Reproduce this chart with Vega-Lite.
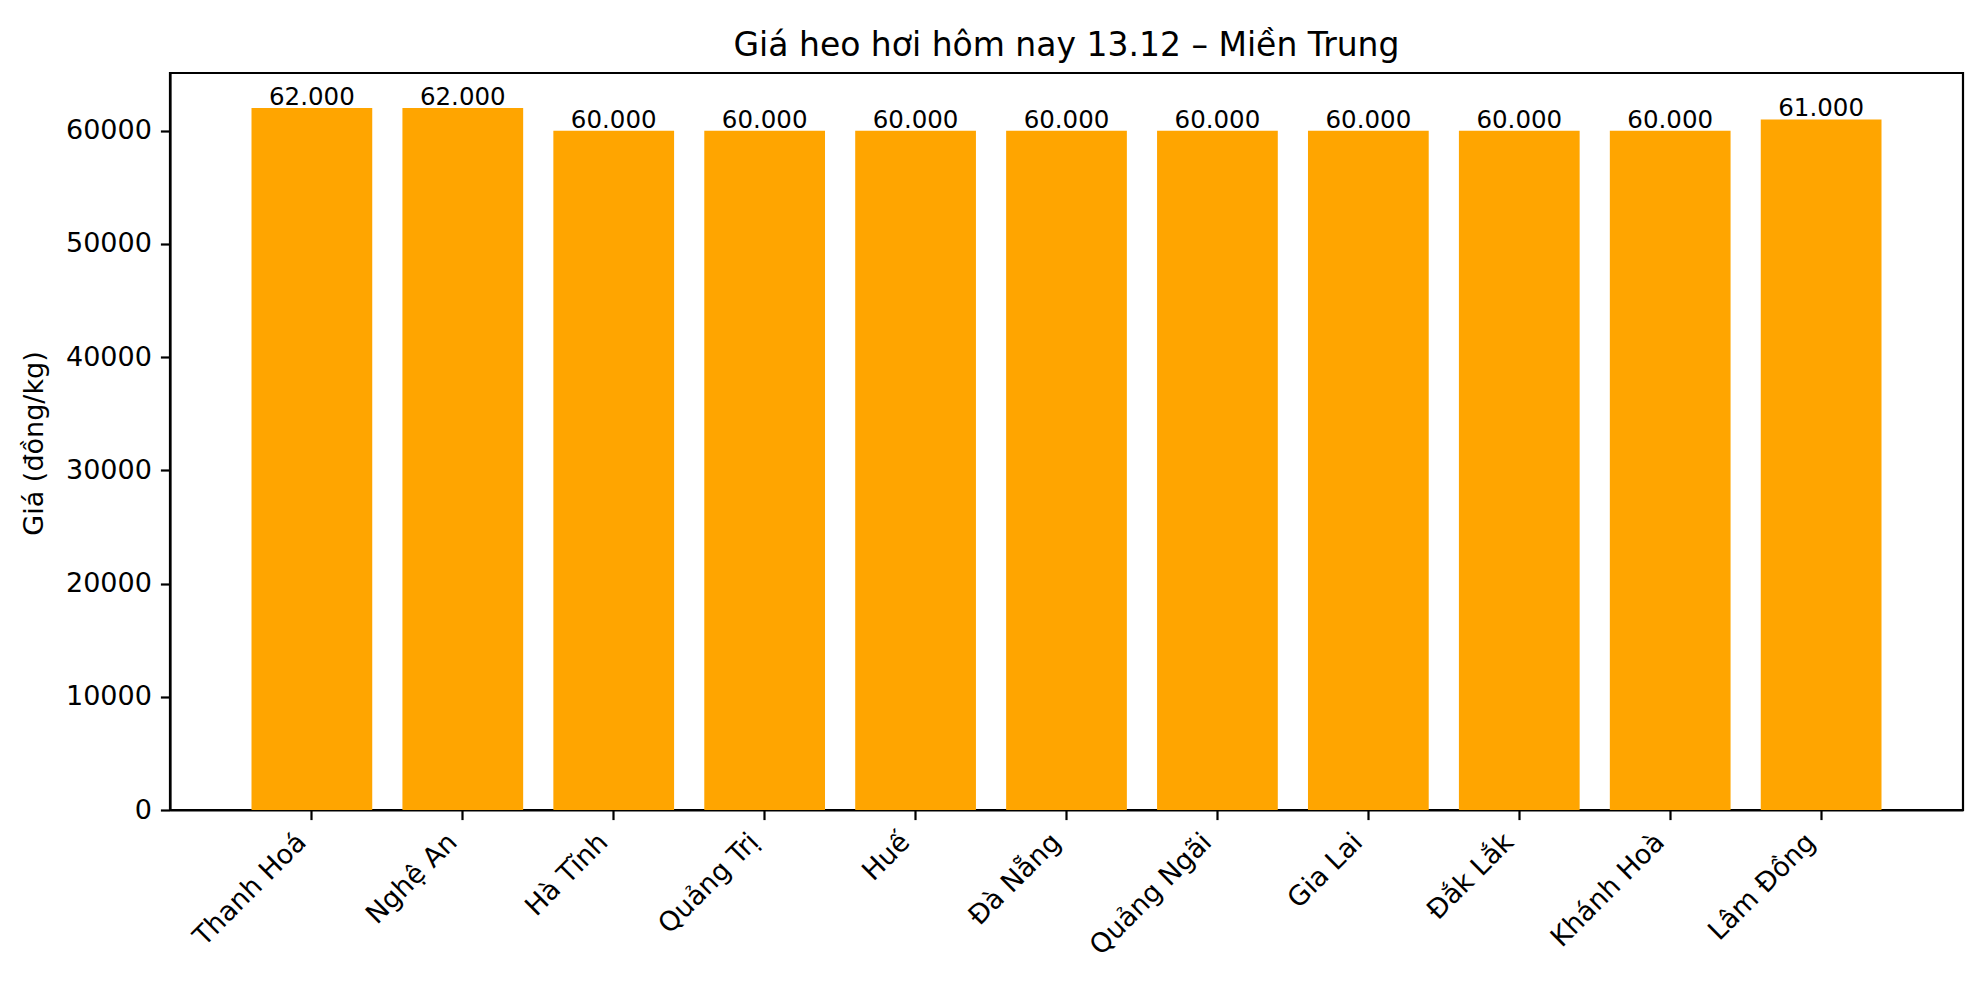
{
  "$schema": "https://vega.github.io/schema/vega-lite/v6.json",
  "autosize": {"type": "none"},
  "padding": {"left": 170, "top": 73, "right": 21, "bottom": 178},
  "width": 1793,
  "height": 737,
  "background": "white",
  "config": {
    "font": "DejaVu Sans",
    "locale": {"number": {"decimal": ",", "thousands": ".", "grouping": [3], "currency": ["", ""]}},
    "view": {"stroke": "#000", "strokeWidth": 2.2},
    "axis": {
      "domainColor": "#000", "domainWidth": 2.2, "tickColor": "#000", "tickWidth": 2.2,
      "tickSize": 9.6, "labelPadding": 9, "labelFontSize": 27, "labelColor": "#000",
      "titleFontSize": 27, "titleFontWeight": "normal", "titleColor": "#000", "grid": false
    }
  },
  "title": {
    "text": "Giá heo hơi hôm nay 13.12 – Miền Trung",
    "fontSize": 33, "fontWeight": "normal", "color": "#000",
    "anchor": "middle", "baseline": "alphabetic", "offset": 16, "dy": 32
  },
  "data": {
    "values": [
      {"province": "Thanh Hoá", "price": 62000},
      {"province": "Nghệ An", "price": 62000},
      {"province": "Hà Tĩnh", "price": 60000},
      {"province": "Quảng Trị", "price": 60000},
      {"province": "Huế", "price": 60000},
      {"province": "Đà Nẵng", "price": 60000},
      {"province": "Quảng Ngãi", "price": 60000},
      {"province": "Gia Lai", "price": 60000},
      {"province": "Đắk Lắk", "price": 60000},
      {"province": "Khánh Hoà", "price": 60000},
      {"province": "Lâm Đồng", "price": 61000}
    ]
  },
  "encoding": {
    "x": {
      "field": "province", "type": "nominal", "sort": null, "title": null,
      "scale": {"paddingInner": 0.2, "paddingOuter": 0.54},
      "axis": {"labelAngle": -45, "labelAlign": "right", "labelBaseline": "bottom", "labelPadding": 28}
    },
    "y": {
      "field": "price", "type": "quantitative", "title": "Giá (đồng/kg)",
      "scale": {"domain": [0, 65100], "nice": false, "zero": true},
      "axis": {"values": [0, 10000, 20000, 30000, 40000, 50000, 60000], "format": "d",
               "titleX": -136, "titleY": 370, "titleBaseline": "middle", "titleAngle": -90}
    }
  },
  "layer": [
    {"mark": {"type": "bar", "color": "#FFA500"}},
    {
      "mark": {"type": "text", "baseline": "alphabetic", "dy": -3, "fontSize": 24.5, "color": "#000"},
      "encoding": {"text": {"field": "price", "type": "quantitative", "format": ",d"}}
    }
  ]
}
